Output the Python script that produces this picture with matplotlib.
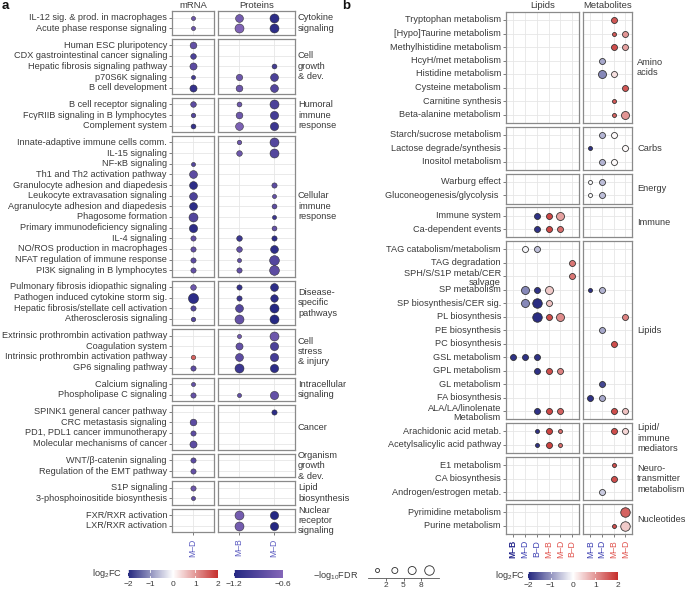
import matplotlib
matplotlib.use("Agg")
import matplotlib.pyplot as plt
from matplotlib.colors import LinearSegmentedColormap, Normalize
from matplotlib.colorbar import ColorbarBase

plt.rcParams["font.family"] = ["Liberation Sans", "DejaVu Sans"]
plt.rcParams["mathtext.default"] = "regular"

# ---------------- panel a data ----------------
a_group_names = ["Cytokine\nsignaling", "Cell\ngrowth\n& dev.", "Humoral\nimmune\nresponse",
                 "Cellular\nimmune\nresponse", "Disease-\nspecific\npathways", "Cell\nstress\n& injury",
                 "Intracellular\nsignaling", "Cancer", "Organism\ngrowth\n& dev.", "Lipid\nbiosynthesis",
                 "Nuclear\nreceptor\nsignaling"]
a_group_rows = [
    ["IL-12 sig. & prod. in macrophages", "Acute phase response signaling"],
    ["Human ESC pluripotency", "CDX gastrointestinal cancer signaling", "Hepatic fibrosis signaling pathway",
     "p70S6K signaling", "B cell development"],
    ["B cell receptor signaling", "FcγRIIB signaling in B lymphocytes", "Complement system"],
    ["Innate-adaptive immune cells comm.", "IL-15 signaling", "NF-κB signaling", "Th1 and Th2 activation pathway",
     "Granulocyte adhesion and diapedesis", "Leukocyte extravasation signaling",
     "Agranulocyte adhesion and diapedesis", "Phagosome formation", "Primary immunodeficiency signaling",
     "IL-4 signaling", "NO/ROS production in macrophages", "NFAT regulation of immune response",
     "PI3K signaling in B lymphocytes"],
    ["Pulmonary fibrosis idiopathic signaling", "Pathogen induced cytokine storm sig.",
     "Hepatic fibrosis/stellate cell activation", "Atherosclerosis signaling"],
    ["Extrinsic prothrombin activation pathway", "Coagulation system", "Intrinsic prothrombin activation pathway",
     "GP6 signaling pathway"],
    ["Calcium signaling", "Phospholipase C signaling"],
    ["SPINK1 general cancer pathway", "CRC metastasis signaling", "PD1, PDL1 cancer immunotherapy",
     "Molecular mechanisms of cancer"],
    ["WNT/β-catenin signaling", "Regulation of the EMT pathway"],
    ["S1P signaling", "3-phosphoinositide biosynthesis"],
    ["FXR/RXR activation", "LXR/RXR activation"],
]
# log2FC and -log10FDR per pathway (flattened order above); None = not significant
a_mrna_fc = [-0.75, -0.75, -0.8, -0.95, -0.85, -1.0, -1.1, -0.85, -0.9, -1.1,
             None, None, -0.9, -0.85, -1.15, -0.95, -1.15, -0.9, -1.15, -0.8, -0.8, -0.85, -0.8,
             -0.75, -1.15, -0.9, -0.9, None, None, 1.5, -0.85, -0.8, -0.8,
             None, -0.85, -0.85, -0.85, -0.85, -0.8, -0.75, -0.85, None, None]
a_mrna_fdr = [1.5, 1.5, 5, 3.5, 5.5, 1.5, 5.5, 3.5, 2, 2.5,
              None, None, 1.5, 6.5, 6.5, 6.5, 6.5, 8, 7, 3, 3, 3, 3,
              3.5, 9.5, 3, 2, None, None, 2, 3, 1.5, 3,
              None, 5, 3, 5.5, 3, 3, 3, 1.5, None, None]
a_mb_fc = [-0.7, -0.62, None, None, None, -0.75, -0.75, -0.75, -0.75, -0.65,
           -0.75, -0.75, None, None, None, None, None, None, None, -1.05, -0.8, -0.8, -0.8,
           -1.1, -1.05, -0.9, -0.8, -0.7, -0.8, -0.85, -1.05, None, -0.8,
           None, None, None, None, None, None, None, None, -0.7, -0.7]
a_mb_fdr = [6.5, 8, None, None, None, 4.5, 5, 2.5, 5, 6.5,
            2, 3.5, None, None, None, None, None, None, None, 3.5, 3.5, 1.5, 3,
            3, 3, 6.5, 8, 1.5, 5.5, 6.5, 8, None, 1.5,
            None, None, None, None, None, None, None, None, 8, 8]
a_md_fc = [-1.15, -1.15, None, None, -1.0, -0.95, -0.9, -0.95, -1.0, -1.05,
           -0.9, -0.9, None, None, -0.85, -0.8, -0.85, -1.05, -0.8, -1.15, -1.15, -0.9, -0.85,
           -1.15, -1.15, -1.2, -1.2, -0.75, -0.95, -1.0, -1.15, None, -0.8,
           -1.15, None, None, None, None, None, None, None, -1.2, -1.2]
a_md_fdr = [8, 8, None, None, 2.5, 6.5, 6.5, 8, 7, 7,
            8, 8, None, None, 3, 1.5, 2.5, 1.5, 2.5, 3, 6.5, 9, 9,
            6.5, 6, 8, 8, 8, 7, 7, 7, None, 7,
            3, None, None, None, None, None, None, None, 7, 7]

# ---------------- panel b data ----------------
b_group_names = ["Amino\nacids", "Carbs", "Energy", "Immune", "Lipids", "Lipid/\nimmune\nmediators",
                 "Neuro-\ntransmitter\nmetabolism", "Nucleotides"]
b_group_rows = [
    ["Tryptophan metabolism", "[Hypo]Taurine metabolism", "Methylhistidine metabolism", "HcyH/met metabolism",
     "Histidine metabolism", "Cysteine metabolism", "Carnitine synthesis", "Beta-alanine metabolism"],
    ["Starch/sucrose metabolism", "Lactose degrade/synthesis", "Inositol metabolism"],
    ["Warburg effect", "Gluconeogenesis/glycolysis "],
    ["Immune system", "Ca-dependent events"],
    ["TAG catabolism/metabolism", "TAG degradation", "SPH/S/S1P metab/CER\nsalvage", "SP metabolism",
     "SP biosynthesis/CER sig.", "PL biosynthesis", "PE biosynthesis", "PC biosynthesis", "GSL metabolism",
     "GPL metabolism", "GL metabolism", "FA biosynthesis", "ALA/LA/linolenate\nMetabolism"],
    ["Arachidonic acid metab.", "Acetylsalicylic acid pathway"],
    ["E1 metabolism", "CA biosynthesis", "Androgen/estrogen metab."],
    ["Pyrimidine metabolism", "Purine metabolism"],
]
b_lipid_cols = ["M–B dn", "M–D dn", "B–D dn", "M–B up", "M–D up", "B–D up"]
b_metab_cols = ["M–B dn", "M–D dn", "M–B up", "M–D up"]
# (pathway, omics, comparison, log2FC, -log10FDR)
b_points = [
    ("Tryptophan metabolism", "Metabolites", "M–B up", 1.6, 3.5),
    ("[Hypo]Taurine metabolism", "Metabolites", "M–B up", 1.6, 1.5),
    ("[Hypo]Taurine metabolism", "Metabolites", "M–D up", 1.0, 3.5),
    ("Methylhistidine metabolism", "Metabolites", "M–B up", 1.7, 3.5),
    ("Methylhistidine metabolism", "Metabolites", "M–D up", 0.9, 3.5),
    ("HcyH/met metabolism", "Metabolites", "M–D dn", -0.8, 3.5),
    ("Histidine metabolism", "Metabolites", "M–D dn", -1.1, 6.5),
    ("Histidine metabolism", "Metabolites", "M–B up", 0.3, 3.5),
    ("Cysteine metabolism", "Metabolites", "M–D up", 1.6, 3.5),
    ("Carnitine synthesis", "Metabolites", "M–B up", 1.6, 1.5),
    ("Beta-alanine metabolism", "Metabolites", "M–B up", 1.5, 1.5),
    ("Beta-alanine metabolism", "Metabolites", "M–D up", 1.0, 6.5),
    ("Starch/sucrose metabolism", "Metabolites", "M–D dn", -0.7, 3.5),
    ("Starch/sucrose metabolism", "Metabolites", "M–B up", 0.05, 3.5),
    ("Lactose degrade/synthesis", "Metabolites", "M–B dn", -1.9, 1.5),
    ("Lactose degrade/synthesis", "Metabolites", "M–D up", 0.05, 3.5),
    ("Inositol metabolism", "Metabolites", "M–D dn", -0.7, 3.5),
    ("Inositol metabolism", "Metabolites", "M–B up", 0.05, 3.5),
    ("Warburg effect", "Metabolites", "M–B dn", -0.05, 1.5),
    ("Warburg effect", "Metabolites", "M–D dn", -0.6, 3.5),
    ("Gluconeogenesis/glycolysis ", "Metabolites", "M–B dn", -0.05, 1.5),
    ("Gluconeogenesis/glycolysis ", "Metabolites", "M–D dn", -0.6, 3.5),
    ("Immune system", "Lipids", "B–D dn", -1.9, 3.5),
    ("Immune system", "Lipids", "M–B up", 1.75, 3.5),
    ("Immune system", "Lipids", "M–D up", 0.9, 6.5),
    ("Ca-dependent events", "Lipids", "B–D dn", -1.9, 3.5),
    ("Ca-dependent events", "Lipids", "M–B up", 1.75, 3.5),
    ("Ca-dependent events", "Lipids", "M–D up", 1.4, 3.5),
    ("TAG catabolism/metabolism", "Lipids", "M–D dn", -0.1, 3.5),
    ("TAG catabolism/metabolism", "Lipids", "B–D dn", -0.6, 3.5),
    ("TAG degradation", "Lipids", "B–D up", 1.3, 3.5),
    ("SPH/S/S1P metab/CER\nsalvage", "Lipids", "B–D up", 1.3, 3.5),
    ("SP metabolism", "Lipids", "M–D dn", -1.1, 6.5),
    ("SP metabolism", "Lipids", "B–D dn", -1.9, 3.5),
    ("SP metabolism", "Lipids", "M–B up", 0.5, 6.5),
    ("SP metabolism", "Metabolites", "M–B dn", -1.9, 1.5),
    ("SP metabolism", "Metabolites", "M–D dn", -0.7, 3.5),
    ("SP biosynthesis/CER sig.", "Lipids", "M–D dn", -1.1, 6.5),
    ("SP biosynthesis/CER sig.", "Lipids", "B–D dn", -1.95, 8),
    ("SP biosynthesis/CER sig.", "Lipids", "M–B up", 0.6, 3.5),
    ("PL biosynthesis", "Lipids", "B–D dn", -1.95, 8),
    ("PL biosynthesis", "Lipids", "M–B up", 1.7, 3.5),
    ("PL biosynthesis", "Lipids", "M–D up", 1.1, 6.5),
    ("PL biosynthesis", "Metabolites", "M–D up", 1.2, 3.5),
    ("PE biosynthesis", "Metabolites", "M–D dn", -0.8, 3.5),
    ("PC biosynthesis", "Metabolites", "M–B up", 1.7, 3.5),
    ("GSL metabolism", "Lipids", "M–B dn", -1.9, 3.5),
    ("GSL metabolism", "Lipids", "M–D dn", -1.9, 3.5),
    ("GSL metabolism", "Lipids", "B–D dn", -1.9, 3.5),
    ("GPL metabolism", "Lipids", "B–D dn", -1.9, 3.5),
    ("GPL metabolism", "Lipids", "M–B up", 1.7, 3.5),
    ("GPL metabolism", "Lipids", "M–D up", 1.2, 3.5),
    ("GL metabolism", "Metabolites", "M–D dn", -1.7, 3.5),
    ("FA biosynthesis", "Metabolites", "M–B dn", -1.9, 3.5),
    ("FA biosynthesis", "Metabolites", "M–D dn", -0.8, 3.5),
    ("ALA/LA/linolenate\nMetabolism", "Lipids", "B–D dn", -1.9, 3.5),
    ("ALA/LA/linolenate\nMetabolism", "Lipids", "M–B up", 1.75, 3.5),
    ("ALA/LA/linolenate\nMetabolism", "Lipids", "M–D up", 1.5, 3.5),
    ("ALA/LA/linolenate\nMetabolism", "Metabolites", "M–B up", 1.7, 3.5),
    ("ALA/LA/linolenate\nMetabolism", "Metabolites", "M–D up", 0.6, 3.5),
    ("Arachidonic acid metab.", "Lipids", "B–D dn", -1.9, 1.5),
    ("Arachidonic acid metab.", "Lipids", "M–B up", 1.8, 3.5),
    ("Arachidonic acid metab.", "Lipids", "M–D up", 1.4, 1.5),
    ("Arachidonic acid metab.", "Metabolites", "M–B up", 1.7, 3.5),
    ("Arachidonic acid metab.", "Metabolites", "M–D up", 0.4, 3.5),
    ("Acetylsalicylic acid pathway", "Lipids", "B–D dn", -1.9, 1.5),
    ("Acetylsalicylic acid pathway", "Lipids", "M–B up", 1.8, 3.5),
    ("Acetylsalicylic acid pathway", "Lipids", "M–D up", 1.4, 1.5),
    ("E1 metabolism", "Metabolites", "M–B up", 1.7, 1.5),
    ("CA biosynthesis", "Metabolites", "M–B up", 1.7, 3.5),
    ("Androgen/estrogen metab.", "Metabolites", "M–D dn", -0.5, 3.5),
    ("Pyrimidine metabolism", "Metabolites", "M–D up", 1.5, 8.5),
    ("Purine metabolism", "Metabolites", "M–B up", 1.7, 1.5),
    ("Purine metabolism", "Metabolites", "M–D up", 0.5, 8.5),
]
fdr_breaks = [2, 5, 8]

# ---------------- styles ----------------
W, H = 685, 589
TXT = "#3a3a3a"
GRID = "#e6e6e6"
BORDER = "#8a8a8a"
BLUE_LAB = "#3d40b2"
RED_LAB = "#e0544e"
div_cmap = LinearSegmentedColormap.from_list("div", ["#25287f", "#ffffff", "#c62f2d"])
div_norm = Normalize(-2, 2)
pur_cmap = LinearSegmentedColormap.from_list("pur", ["#252883", "#8466b8"])
pur_norm = Normalize(-1.2, -0.6)

fig = plt.figure(figsize=(W / 100, H / 100), dpi=100)


def px_axes(x0, y0, x1, y1):
    return fig.add_axes([x0 / W, 1 - y1 / H, (x1 - x0) / W, (y1 - y0) / H])


def s_of(d_px):
    return (d_px * 0.72) ** 2


def size_a(v):
    return s_of(3 + 0.75 * min(v, 9.5))


def size_b(v):
    d = 4
    for b, dd in zip(fdr_breaks, [6, 8, 9.5]):
        if v >= b:
            d = dd
    return s_of(d)


def color_a(v):
    return pur_cmap(pur_norm(max(v, -1.2))) if v < 0 else div_cmap(div_norm(v))


def style_ax(ax, ncol, nrow):
    ax.set_xlim(-0.6, ncol - 1 + 0.6)
    ax.set_ylim(nrow - 1 + 0.6, -0.6)
    ax.set_xticks(range(ncol))
    ax.set_yticks(range(nrow))
    ax.grid(True, color=GRID, lw=0.6, zorder=0)
    ax.set_axisbelow(True)
    for sp in ax.spines.values():
        sp.set_color(BORDER)
        sp.set_linewidth(0.9)
    ax.tick_params(length=2.5, width=0.6, color="#666666", labelsize=6.4, labelcolor=TXT, pad=2)
    ax.tick_params(labelleft=False, left=False, labelbottom=False, bottom=False)


def build_panel(groups, rows, cols_spec, top, step, gap, label_x):
    """cols_spec: list of (x0, x1, ncol). Returns {(group, facet): axes} and row index map."""
    y = top
    axes = {}
    rowmap = {}
    for gi, (gname, grows) in enumerate(zip(groups, rows)):
        n = len(grows)
        h = (n + 0.2) * step
        for fi, (x0, x1, ncol) in enumerate(cols_spec):
            ax = px_axes(x0, y, x1, y + h)
            style_ax(ax, ncol, n)
            if fi == 0:
                ax.tick_params(left=True)
                for ri, lab in enumerate(grows):
                    dy = -1.0 if "\n" in lab else 0
                    ax.annotate(lab, xy=(0, ri), xycoords=("axes fraction", "data"),
                                xytext=(-3.6, dy), textcoords="offset points",
                                ha="right", va="center", multialignment="right",
                                fontsize=6.6, color=TXT, linespacing=0.95)
            axes[(gi, fi)] = ax
        fig.text(label_x / W, 1 - (y + h / 2) / H, gname, fontsize=6.7, color=TXT,
                 ha="left", va="center", linespacing=1.2)
        for ri, r in enumerate(grows):
            rowmap[r] = (gi, ri)
        y += h + gap
    return axes, rowmap


# ---------------- panel a ----------------
a_cols = [(172, 214, 1), (218, 295, 2)]
axA, rowA = build_panel(a_group_names, a_group_rows, a_cols, 11.3, 10.64, 4.0, 298)
flat_a = [r for g in a_group_rows for r in g]
series_a = [(0, 0, a_mrna_fc, a_mrna_fdr), (1, 0, a_mb_fc, a_mb_fdr), (1, 1, a_md_fc, a_md_fdr)]
for facet, xi, fcs, fdrs in series_a:
    for name, fc, fdr in zip(flat_a, fcs, fdrs):
        if fc is None:
            continue
        gi, ri = rowA[name]
        axA[(gi, facet)].scatter([xi], [ri], s=size_a(fdr), color=color_a(fc),
                                 edgecolor="#2a2a2a", linewidth=0.35, zorder=3, clip_on=False)
last = len(a_group_names) - 1
for fi, labs in [(0, ["M–D"]), (1, ["M–B", "M–D"])]:
    ax = axA[(last, fi)]
    ax.tick_params(bottom=True, labelbottom=True)
    ax.set_xticklabels(labs, rotation=90, fontsize=6.2, color="#5b5bc0")

fig.text(193 / W, 1 - 5 / H, "mRNA", ha="center", va="center", fontsize=6.8, color=TXT)
fig.text(256.5 / W, 1 - 5 / H, "Proteins", ha="center", va="center", fontsize=6.8, color=TXT)
fig.text(2 / W, 1 - 6 / H, "a", ha="left", va="center", fontsize=9.5, weight="bold", color="#111111")

# ---------------- panel b ----------------
b_cols = [(506, 579.3, len(b_lipid_cols)), (583.3, 632.3, len(b_metab_cols))]
axB, rowB = build_panel(b_group_names, b_group_rows, b_cols, 11.9, 13.5, 4.0, 637)
for name, omics, comp, fc, fdr in b_points:
    gi, ri = rowB[name]
    if omics == "Lipids":
        fi, xi = 0, b_lipid_cols.index(comp)
    else:
        fi, xi = 1, b_metab_cols.index(comp)
    axB[(gi, fi)].scatter([xi], [ri], s=size_b(fdr), color=div_cmap(div_norm(fc)),
                          edgecolor="#2a2a2a", linewidth=0.55, zorder=3, clip_on=False)
last = len(b_group_names) - 1
for fi, cols in [(0, b_lipid_cols), (1, b_metab_cols)]:
    ax = axB[(last, fi)]
    ax.tick_params(bottom=True, labelbottom=True)
    ax.set_xticklabels([c.split()[0] for c in cols], rotation=90, fontsize=6.2)
    for k, (t, c) in enumerate(zip(ax.get_xticklabels(), cols)):
        t.set_color(BLUE_LAB if c.endswith("dn") else RED_LAB)
        if fi == 0 and k == 0:
            t.set_color("#22238a")
            t.set_fontweight("bold")

fig.text(542.6 / W, 1 - 5 / H, "Lipids", ha="center", va="center", fontsize=6.8, color=TXT)
fig.text(607.8 / W, 1 - 5 / H, "Metabolites", ha="center", va="center", fontsize=6.8, color=TXT)
fig.text(342 / W, 1 - 6 / H, "b", ha="left", va="center", fontsize=9.5, weight="bold", color="#111111")


# ---------------- legends ----------------
def hbar(x0, x1, cmap, norm, ticks, ticklabels, y0=570, y1=578):
    cax = px_axes(x0, y0, x1, y1)
    cb = ColorbarBase(cax, cmap=cmap, norm=norm, orientation="horizontal")
    cb.outline.set_visible(False)
    cb.set_ticks(ticks)
    cb.set_ticklabels(ticklabels)
    cax.tick_params(length=0, labelsize=6.0, labelcolor=TXT, pad=2)
    for t in ticks:
        cax.plot([t, t], [0, 0.2], color="white", lw=0.6, transform=cax.get_xaxis_transform())
        cax.plot([t, t], [0.8, 1], color="white", lw=0.6, transform=cax.get_xaxis_transform())
    return cax


hbar(128, 218, div_cmap, div_norm, [-2, -1, 0, 1, 2], ["−2", "−1", "0", "1", "2"])
hbar(234, 283, pur_cmap, pur_norm, [-1.2, -0.6], ["−1.2", "−0.6"])
fig.text(122 / W, 1 - 574 / H, "log$_2$FC", ha="right", va="center", fontsize=6.6, color=TXT)

hbar(528.3, 617.7, div_cmap, div_norm, [-2, -1, 0, 1, 2], ["−2", "−1", "0", "1", "2"], 571.5, 579.5)
fig.text(525 / W, 1 - 575 / H, "log$_2$FC", ha="right", va="center", fontsize=6.6, color=TXT)

# size legend (binned)
sax = px_axes(368, 563, 439, 578)
sax.scatter(range(4), [0] * 4, s=[size_b(v) for v in [1, 3.5, 6.5, 9]], facecolor="white",
            edgecolor="#2a2a2a", linewidth=0.6, clip_on=False)
sax.set_xlim(-0.55, 3.55)
sax.set_ylim(-0.6, 0.6)
for k in ["top", "left", "right"]:
    sax.spines[k].set_visible(False)
sax.spines["bottom"].set_color("#555555")
sax.spines["bottom"].set_linewidth(0.6)
sax.set_yticks([])
sax.set_xticks([0.5, 1.5, 2.5])
sax.set_xticklabels([str(b) for b in fdr_breaks])
sax.tick_params(axis="x", length=2, width=0.6, color="#555555", labelsize=6.0, labelcolor=TXT, pad=1)
fig.text(358 / W, 1 - 575 / H, "−log$_{10}$FDR", ha="right", va="center", fontsize=6.6, color=TXT)

fig.savefig("out.png", dpi=100)
